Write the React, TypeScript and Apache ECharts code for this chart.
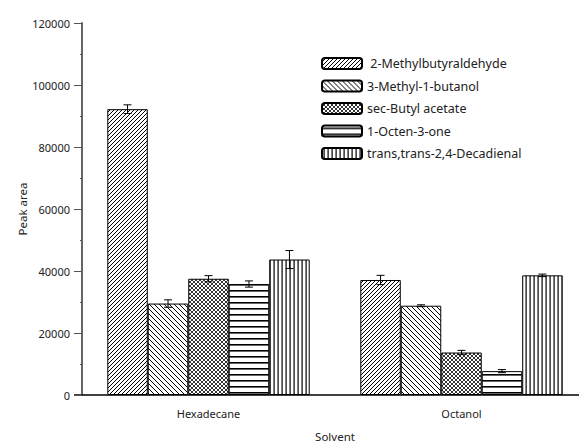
import React, { useEffect, useRef } from "react";
import * as echarts from "echarts";

const categories = ["Hexadecane", "Octanol"];
const seriesNames = [
  "2-Methylbutyraldehyde",
  "3-Methyl-1-butanol",
  "sec-Butyl acetate",
  "1-Octen-3-one",
  "trans,trans-2,4-Decadienal",
];
// values per series: [Hexadecane, Octanol]
const methylbutyraldehyde = [92200, 37100];
const methylbutanol = [29500, 28800];
const secButylAcetate = [37500, 13700];
const octenone = [35800, 7700];
const decadienal = [43700, 38600];
const seriesValues = [methylbutyraldehyde, methylbutanol, secButylAcetate, octenone, decadienal];
// error (±) per series
const errMethylbutyraldehyde = [1400, 1500];
const errMethylbutanol = [1200, 300];
const errSecButylAcetate = [1000, 700];
const errOctenone = [1000, 500];
const errDecadienal = [2900, 400];
const seriesErrors = [errMethylbutyraldehyde, errMethylbutanol, errSecButylAcetate, errOctenone, errDecadienal];
const yTicks = [0, 20000, 40000, 60000, 80000, 100000, 120000];

const FONT = "Noto Sans";

function svgTile(w: number, h: number, body: string) {
  const svg =
    `<svg xmlns="http://www.w3.org/2000/svg" width="${w}" height="${h}" viewBox="0 0 ${w} ${h}">` +
    `<rect width="${w}" height="${h}" fill="#fff"/>` +
    body +
    `</svg>`;
  return {
    image: "data:image/svg+xml;charset=utf-8," + encodeURIComponent(svg),
    repeat: "repeat",
    imageWidth: w,
    imageHeight: h,
  };
}

const fwd = (s: number, sw: number) =>
  `<g stroke="#000" stroke-width="${sw}"><line x1="${-1}" y1="${s + 1}" x2="${s + 1}" y2="${-1}"/>` +
  `<line x1="${-1}" y1="1" x2="1" y2="-1"/><line x1="${s - 1}" y1="${s + 1}" x2="${s + 1}" y2="${s - 1}"/></g>`;
const back = (s: number, sw: number) =>
  `<g stroke="#000" stroke-width="${sw}"><line x1="-1" y1="-1" x2="${s + 1}" y2="${s + 1}"/>` +
  `<line x1="${s - 1}" y1="-1" x2="${s + 1}" y2="1"/><line x1="-1" y1="${s - 1}" x2="1" y2="${s + 1}"/></g>`;

const patterns: any[] = [
  svgTile(4, 4, fwd(4, 1)),
  svgTile(5, 5, back(5, 1)),
  svgTile(4, 4, fwd(4, 0.8) + back(4, 0.8)),
  svgTile(6, 6, `<rect x="0" y="2" width="6" height="1.6" fill="#000"/>`),
  svgTile(4, 4, `<rect x="1.5" y="0" width="1.2" height="4" fill="#000"/>`),
];

export default function App() {
  const ref = useRef<HTMLDivElement>(null);
  useEffect(() => {
    if (!ref.current) return;
    const chart = echarts.init(ref.current, null, { renderer: "svg" });
    const errData: number[][] = [];
    seriesValues.forEach((vals, s) => {
      vals.forEach((v, c) => errData.push([c, s, v, seriesErrors[s][c]]));
    });
    const n = seriesNames.length;
    const option: any = {
      animation: false,
      backgroundColor: "#fff",
      textStyle: { fontFamily: FONT },
      grid: { left: 82, top: 23, width: 506, bottom: 47, containLabel: false, outerBoundsMode: "none" },
      legend: {
        orient: "vertical",
        left: 316,
        top: 52,
        itemWidth: 40,
        itemHeight: 11,
        itemGap: 9.5,
        data: seriesNames,
        textStyle: { fontFamily: FONT, fontSize: 12.5, color: "#222" },
        formatter: (name: string) => (name === seriesNames[0] ? " " + name : name),
      },
      xAxis: {
        type: "category",
        data: categories,
        name: "Solvent",
        nameLocation: "middle",
        nameGap: 35,
        nameMoveOverlap: false,
        nameTextStyle: { fontFamily: FONT, fontSize: 11.5, color: "#222" },
        axisLine: { lineStyle: { color: "#000", width: 1.5 } },
        axisTick: { alignWithLabel: true, length: 6, lineStyle: { color: "#000" } },
        axisLabel: { fontFamily: FONT, fontSize: 11, color: "#222", margin: 13 },
        splitLine: { show: false },
      },
      yAxis: {
        type: "value",
        min: yTicks[0],
        max: yTicks[yTicks.length - 1],
        interval: 20000,
        name: "Peak area",
        nameLocation: "middle",
        nameGap: 54,
        nameMoveOverlap: false,
        nameTextStyle: { fontFamily: FONT, fontSize: 11.5, color: "#222" },
        axisLine: { show: true, lineStyle: { color: "#666", width: 2 } },
        axisTick: { show: true, length: 8, lineStyle: { color: "#555" } },
        minorTick: { show: true, splitNumber: 2, length: 2, lineStyle: { color: "#555" } },
        axisLabel: {
          fontFamily: FONT,
          fontSize: 11,
          color: "#222",
          margin: 12,
          formatter: (v: number) => String(v),
        },
        splitLine: { show: false },
      },
      series: [
        ...seriesNames.map((name, i) => ({
          name,
          type: "bar",
          data: seriesValues[i],
          barGap: "0%",
          barCategoryGap: "20%",
          itemStyle: { color: patterns[i], borderColor: "#000", borderWidth: 1 },
          emphasis: { disabled: true },
        })),
        {
          type: "custom",
          name: "errors",
          data: errData,
          encode: { x: 0, y: 2 },
          z: 10,
          renderItem: (params: any, api: any) => {
            const c = api.value(0);
            const s = api.value(1);
            const v = api.value(2);
            const e = api.value(3);
            const band = api.size([1, 0])[0];
            const bw = (band * 0.8) / n;
            const cx = api.coord([c, 0])[0] + (s - (n - 1) / 2) * bw;
            const top = api.coord([c, v + e])[1];
            const bot = api.coord([c, v - e])[1];
            const hw = 4;
            const st = { stroke: "#000", lineWidth: 1 };
            return {
              type: "group",
              children: [
                { type: "line", shape: { x1: cx, y1: top, x2: cx, y2: bot }, style: st },
                { type: "line", shape: { x1: cx - hw, y1: top, x2: cx + hw, y2: top }, style: st },
                { type: "line", shape: { x1: cx - hw, y1: bot, x2: cx + hw, y2: bot }, style: st },
              ],
            };
          },
        },
      ],
    };
    chart.setOption(option);
    const origin = chart.convertToPixel({ gridIndex: 0 }, [0, 0]) as number[];
    const axisX = 82;
    const y0 = origin ? origin[1] : 395;
    chart.setOption({
      graphic: [
        {
          type: "line",
          shape: { x1: axisX - 8, y1: y0, x2: axisX, y2: y0 },
          style: { stroke: "#000", lineWidth: 1.5 },
          silent: true,
        },
      ],
    });
    return () => chart.dispose();
  }, []);
  return <div ref={ref} style={{ width: 579, height: 442, position: "absolute", left: 0, top: 0 }} />;
}
